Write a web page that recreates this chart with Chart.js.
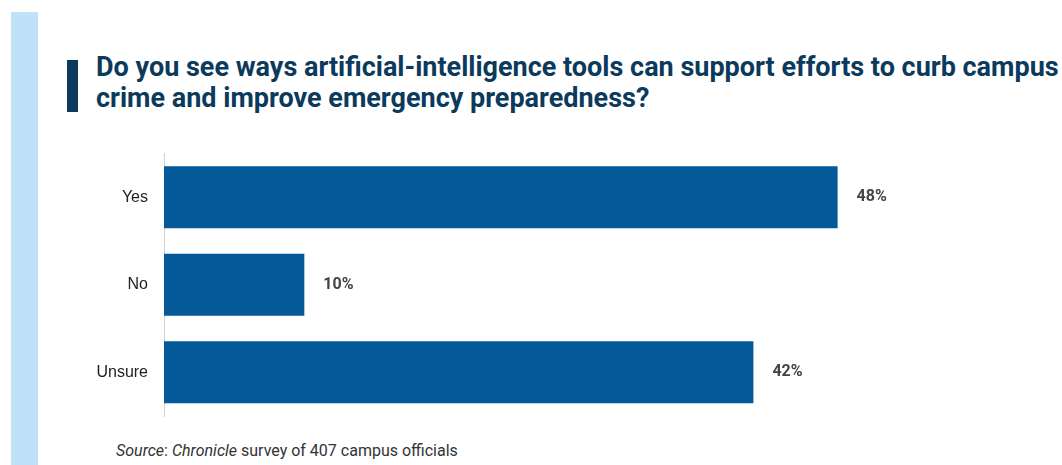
<!DOCTYPE html>
<html lang="en">
<head>
    <meta charset="UTF-8">
    <title>AI tools and campus safety</title>
    <script src="https://cdn.jsdelivr.net/npm/chart.js"></script>
    <style>
        body { margin: 0; width: 1062px; height: 465px; background: #fff; position: relative; overflow: hidden; font-family: Roboto, sans-serif; }
        .strip { position: absolute; left: 11px; top: 12px; width: 27px; height: 453px; background: #bfe2f8; }
        .marker { position: absolute; left: 67px; top: 60px; width: 11px; height: 52px; background: #0b3a5c; }
        h1 { position: absolute; left: 96px; top: 52px; margin: 0; width: 1000px; font-size: 27px; line-height: 31px; font-weight: 700; color: #0b3a5c; white-space: nowrap; }
        .source { position: absolute; left: 116px; top: 441px; font-size: 16px; color: #333; }
        #aiChart { position: absolute; left: 0; top: 140px; }
    </style>
</head>
<body>
    <div class="strip"></div>
    <div class="marker"></div>
    <h1>Do you see ways artificial-intelligence tools can support efforts to curb campus<br>crime and improve emergency preparedness?</h1>
    <canvas id="aiChart" width="1062" height="290"></canvas>
    <div class="source"><i>Source</i>: <i>Chronicle</i> survey of 407 campus officials</div>

    <script>
        // Survey answers (percent of respondents)
        const answers = ['Yes', 'No', 'Unsure'];
        const shares = [48, 10, 42];

        // Writes "NN%" just past the end of each bar
        const valueLabels = {
            id: 'valueLabels',
            afterDatasetsDraw(chart) {
                const ctx = chart.ctx;
                const meta = chart.getDatasetMeta(0);
                ctx.save();
                ctx.font = 'bold 16px Roboto, sans-serif';
                ctx.fillStyle = '#444';
                ctx.textAlign = 'left';
                ctx.textBaseline = 'middle';
                meta.data.forEach((bar, i) => {
                    ctx.fillText(shares[i] + '%', bar.x + 19, bar.y);
                });
                ctx.restore();
            }
        };

        const ctx = document.getElementById('aiChart').getContext('2d');
        new Chart(ctx, {
            type: 'bar',
            data: {
                labels: answers,
                datasets: [{
                    data: shares,
                    backgroundColor: '#045a99',
                    borderWidth: 0,
                    barPercentage: 0.71,
                    categoryPercentage: 1
                }]
            },
            options: {
                indexAxis: 'y',
                responsive: false,
                animation: false,
                layout: { padding: { top: 13.5, bottom: 14, right: 56, left: 0 } },
                plugins: {
                    legend: { display: false },
                    tooltip: { enabled: false }
                },
                scales: {
                    x: {
                        display: false,
                        min: 0,
                        max: 60
                    },
                    y: {
                        // fixed label column; no extra space above/below the bars
                        afterFit(scale) {
                            scale.width = 164;
                            scale.paddingTop = 0;
                            scale.paddingBottom = 0;
                        },
                        grid: { display: false, drawTicks: false },
                        border: { display: true, color: '#d0d0d0', width: 1 },
                        ticks: {
                            padding: 16,
                            color: '#222',
                            font: { family: '"Liberation Sans", Arial, sans-serif', size: 16 }
                        }
                    }
                }
            },
            plugins: [valueLabels]
        });
    </script>
</body>
</html>
